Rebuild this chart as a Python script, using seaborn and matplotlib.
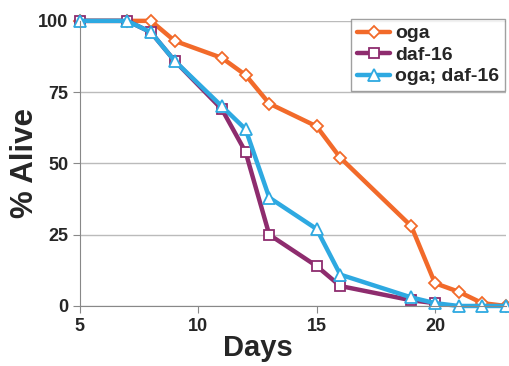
import pandas as pd
import seaborn as sns
import matplotlib.pyplot as plt

# survival data
days = [5, 7, 8, 9, 11, 12, 13, 15, 16, 19, 20, 21, 22, 23]
oga = [100, 100, 100, 93, 87, 81, 71, 63, 52, 28, 8, 5, 1, 0]
daf16_days = [5, 7, 8, 9, 11, 12, 13, 15, 16, 19, 20]
daf16 = [100, 100, 96, 86, 69, 54, 25, 14, 7, 2, 1]
oga_daf16 = [100, 100, 96, 86, 70, 62, 38, 27, 11, 3, 1, 0, 0, 0]

labels = ["oga", "daf-16", "oga; daf-16"]
colors = ["#F26A2A", "#8E2C6E", "#2EA9E1"]
markers = ["D", "s", "^"]
msizes = [6, 7, 8]

sns.set_style("white")
plt.rcParams['font.family'] = ['Liberation Sans', 'DejaVu Sans']

fig = plt.figure(figsize=(5.09, 3.66), dpi=100)
ax = fig.add_axes([0.157, 0.164, 0.837, 0.779])

series = [(days, oga), (daf16_days, daf16), (days, oga_daf16)]
for (x, y), label, color, m, ms in zip(series, labels, colors, markers, msizes):
    df = pd.DataFrame({"Days": x, "Alive": y})
    sns.lineplot(data=df, x="Days", y="Alive", ax=ax, color=color, label=label,
                 linewidth=3.2, marker=m, markersize=ms, markerfacecolor="white",
                 markeredgecolor=color, markeredgewidth=1.3, clip_on=False)

ax.set_xlim(5, 23)
ax.set_ylim(0, 100)
ax.set_xticks([5, 10, 15, 20])
ax.set_yticks([0, 25, 50, 75, 100])
ax.yaxis.grid(True, color="#BBBBBB", linewidth=1)
ax.set_axisbelow(True)
for s in ["top", "right"]:
    ax.spines[s].set_visible(False)
for s in ["left", "bottom"]:
    ax.spines[s].set_color("#888888")
ax.tick_params(axis="both", which="both", length=5, color="#888888", direction="out",
               labelsize=13, left=True, bottom=True)
for t in ax.get_xticklabels() + ax.get_yticklabels():
    t.set_fontweight("bold")

ax.set_xlabel("Days", fontsize=21, fontweight="bold")
ax.set_ylabel("% Alive", fontsize=22.5, fontweight="bold")
ax.xaxis.set_label_coords(0.418, -0.1)
ax.yaxis.set_label_coords(-0.094, 0.50)

leg = ax.legend(loc="upper right", bbox_to_anchor=(0.998, 1.007), frameon=True, fancybox=False,
                prop={"weight": "bold", "size": 14}, handlelength=1.7, handletextpad=0.25,
                labelspacing=0.2, borderpad=0.3, borderaxespad=0)
leg.get_frame().set_edgecolor("#888888")
leg.get_frame().set_linewidth(1)

fig.savefig("out.png", dpi=100)
